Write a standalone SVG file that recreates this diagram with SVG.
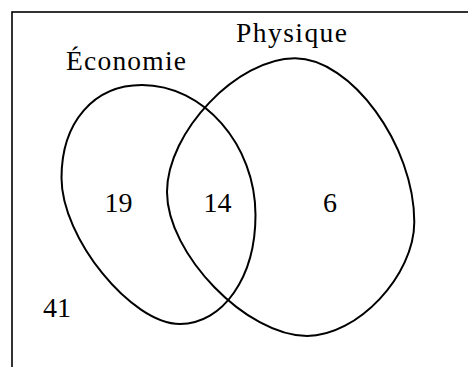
<svg xmlns="http://www.w3.org/2000/svg" width="468" height="367" viewBox="0 0 468 367">
<style>
.frame{fill:none;stroke:#000;stroke-width:1.6}
.set{fill:none;stroke:#000;stroke-width:2}
.lbl{font-family:"Liberation Serif","Times New Roman",serif;font-size:27.5px;fill:#000}
.num{font-family:"Liberation Serif","Times New Roman",serif;font-size:28px;fill:#000;text-anchor:middle}
</style>
<rect class="frame" x="12" y="12" width="480" height="380"/>
<g id="economie">
<path class="set" d="M142,85 C203.3,85 255.5,144.8 255.5,215 C255.5,277.1 223,324 180,324 C131.4,324 61.5,237.9 61.5,178 C61.5,122.2 93.7,85 142,85 Z"/>
<text class="lbl" x="66" y="70" textLength="120" lengthAdjust="spacing">Économie</text>
</g>
<g id="physique">
<path class="set" d="M295,58.3 C351.1,58.3 414.3,145.1 414.3,222 C414.3,275.6 357.4,336 307,336 C246.8,336 167,253.9 167,192 C167,131.8 237.4,58.3 295,58.3 Z"/>
<text class="lbl" x="236" y="42.3" textLength="111" lengthAdjust="spacing">Physique</text>
</g>
<g id="counts">
<text class="num" x="118.4" y="211.7">19</text>
<text class="num" x="217.5" y="211.7">14</text>
<text class="num" x="330" y="211.7">6</text>
<text class="num" x="57" y="317.3">41</text>
</g>
</svg>
